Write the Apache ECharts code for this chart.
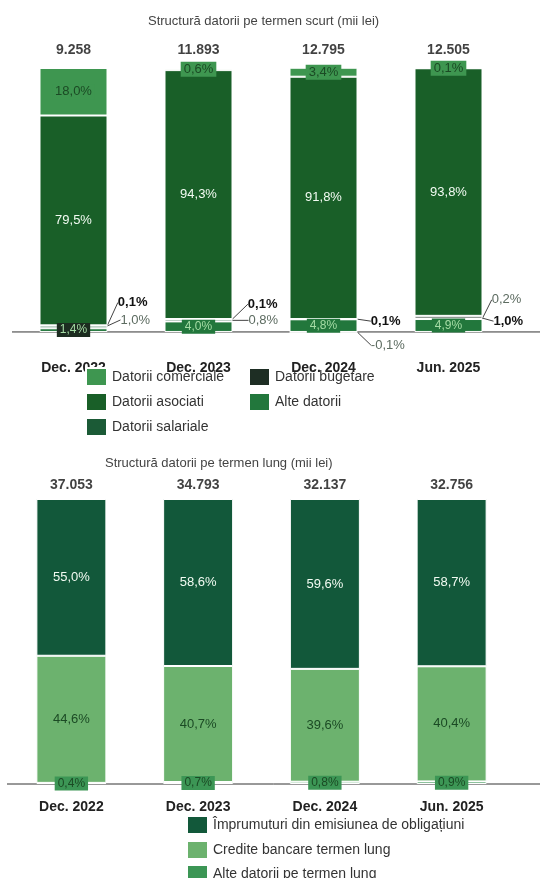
<!DOCTYPE html>
<html><head><meta charset="utf-8">
<script src="https://cdn.jsdelivr.net/npm/echarts@6/dist/echarts.min.js"></script>
<style>html,body{margin:0;padding:0;background:#fff}#c{width:548px;height:878px}</style>
</head><body><div id="c"></div>
<script>
// ---------- data ----------
const categories = ['Dec. 2022', 'Dec. 2023', 'Dec. 2024', 'Jun. 2025'];

const shortTotals     = [9258, 11893, 12795, 12505];
const shortComerciale = [18.0, 0.6, 3.4, 0.1];
const shortAsociati   = [79.5, 94.3, 91.8, 93.8];
const shortAlte       = [1.4, 4.0, 4.8, 4.9];
const shortSalariale  = [1.0, 0.8, -0.1, 0.2];
const shortBugetare   = [0.1, 0.1, 0.1, 1.0];

const longTotals      = [37053, 34793, 32137, 32756];
const longObligatiuni = [55.0, 58.6, 59.6, 58.7];
const longCredite     = [44.6, 40.7, 39.6, 40.4];
const longAlte        = [0.4, 0.7, 0.8, 0.9];

// ---------- styling ----------
const FONT = 'Liberation Sans';
const pct = v => v.toFixed(1).replace('.', ',') + '%';
const thousands = v => String(v).replace(/\B(?=(\d{3})+(?!\d))/g, '.');
// label shifts for the tiny segments (style only)
const salShift = [[8, -7], [11, 0], [8, 13], [4, -19]];
const bugShift = [[5, -23], [10, -15], [8, 2], [6, 4]];

const C = {
  comerciale: '#3e9650', asociati: '#195f28', salariale: '#1b5a36',
  bugetare: '#1e2e24', alte: '#22773c',
  oblig: '#12583a', credite: '#6cb26e', alteLung: '#3c9655'
};

function barBase(name, data, color, xi) {
  return {
    name, type: 'bar', data, stack: 's' + xi, xAxisIndex: xi, yAxisIndex: xi,
    barWidth: xi === 0 ? 68 : 70,
    itemStyle: { color, borderColor: '#ffffff', borderWidth: 1 },
    emphasis: { disabled: true }
  };
}

const series = [];
// ---- short term (grid 0), bottom to top ----
{
  const s = barBase('Alte datorii', shortAlte.map((v, i) => i === 0
      ? { value: v, label: { backgroundColor: '#1c2c20' } } : v), C.alte, 0);
  s.label = { show: true, position: 'inside', formatter: p => pct(p.value),
    color: '#a5dca5', fontSize: 12, fontFamily: FONT, backgroundColor: C.alte, padding: [1, 3] };
  series.push(s);
}
{
  const s = barBase('Datorii salariale', shortSalariale, C.salariale, 0);
  s.label = { show: true, position: 'right', distance: 5, formatter: p => pct(p.value),
    color: '#5c6b60', fontSize: 13, fontFamily: FONT };
  s.labelLine = { show: true, lineStyle: { color: '#444', width: 1 } };
  s.labelLayout = p => ({ dx: salShift[p.dataIndex][0], dy: salShift[p.dataIndex][1] });
  series.push(s);
}
{
  const s = barBase('Datorii bugetare', shortBugetare, C.bugetare, 0);
  s.label = { show: true, position: 'right', distance: 5, formatter: p => pct(p.value),
    color: '#111', fontSize: 13, fontWeight: 'bold', fontFamily: FONT };
  s.labelLine = { show: true, lineStyle: { color: '#444', width: 1 } };
  s.labelLayout = p => ({ dx: bugShift[p.dataIndex][0], dy: bugShift[p.dataIndex][1] });
  series.push(s);
}
{
  const s = barBase('Datorii asociati', shortAsociati, C.asociati, 0);
  s.label = { show: true, position: 'inside', formatter: p => pct(p.value),
    color: '#f2fbf2', fontSize: 13, fontFamily: FONT };
  series.push(s);
}
{
  const s = barBase('Datorii comerciale', shortComerciale, C.comerciale, 0);
  s.label = { show: true, position: 'inside', formatter: p => pct(p.value),
    color: '#1b4a24', fontSize: 13, fontFamily: FONT, backgroundColor: C.comerciale, padding: [1, 3] };
  series.push(s);
}
series.push({
  name: 'totS', type: 'scatter', xAxisIndex: 0, yAxisIndex: 0, symbolSize: 0,
  data: shortTotals.map(() => 100), silent: true,
  label: { show: true, position: 'top', distance: 11, formatter: p => thousands(shortTotals[p.dataIndex]),
    color: '#111', fontSize: 14, fontWeight: 'bold', fontFamily: FONT }
});

// ---- long term (grid 1) ----
{
  const s = barBase('Alte datorii pe termen lung', longAlte, C.alteLung, 1);
  s.label = { show: true, position: 'inside', formatter: p => pct(p.value),
    color: '#1b4a24', fontSize: 12, fontFamily: FONT, backgroundColor: C.alteLung, padding: [1, 3] };
  series.push(s);
}
{
  const s = barBase('Credite bancare termen lung', longCredite, C.credite, 1);
  s.label = { show: true, position: 'inside', formatter: p => pct(p.value),
    color: '#1b4a24', fontSize: 13, fontFamily: FONT };
  series.push(s);
}
{
  const s = barBase('Împrumuturi din emisiunea de obligațiuni', longObligatiuni, C.oblig, 1);
  s.label = { show: true, position: 'inside', formatter: p => pct(p.value),
    color: '#f2fbf2', fontSize: 13, fontFamily: FONT };
  series.push(s);
}
series.push({
  name: 'totL', type: 'scatter', xAxisIndex: 1, yAxisIndex: 1, symbolSize: 0,
  data: longTotals.map(() => 100), silent: true,
  label: { show: true, position: 'top', distance: 7, formatter: p => thousands(longTotals[p.dataIndex]),
    color: '#111', fontSize: 14, fontWeight: 'bold', fontFamily: FONT }
});

const legendText = { color: '#333', fontSize: 14, fontFamily: FONT };
const leg = (names, left, top) => ({
  data: names, orient: 'vertical', left, top, itemWidth: 21, itemHeight: 18, itemGap: 5,
  icon: 'rect', textStyle: legendText, selectedMode: false, padding: 0
});
const option = {
  animation: false,
  backgroundColor: '#ffffff',
  title: [
    { text: 'Structură datorii pe termen scurt (mii lei)', left: 143, top: 10,
      textStyle: { color: '#444', fontSize: 13, fontWeight: 'normal', fontFamily: FONT } },
    { text: 'Structură datorii pe termen lung (mii lei)', left: 100, top: 452,
      textStyle: { color: '#444', fontSize: 13, fontWeight: 'normal', fontFamily: FONT } }
  ],
  legend: [
    leg(['Datorii comerciale', 'Datorii asociati', 'Datorii salariale'], 85, 367),
    leg(['Datorii bugetare', 'Alte datorii'], 248, 367),
    leg(['Împrumuturi din emisiunea de obligațiuni'], 186, 815),
    leg(['Credite bancare termen lung'], 186, 840),
    leg(['Alte datorii pe termen lung'], 186, 864)
  ],
  grid: [
    { left: 11, width: 500, top: 68, height: 266.6 },
    { left: 8, width: 507, top: 499, height: 285 }
  ],
  xAxis: [0, 1].map(i => ({
    type: 'category', data: categories, gridIndex: i,
    axisLine: { show: false }, axisTick: { show: false },
    axisLabel: { margin: i === 0 ? 27 : 16, color: '#222', fontSize: 14, fontWeight: 'bold', fontFamily: FONT }
  })),
  yAxis: [
    { type: 'value', gridIndex: 0, min: -1, max: 100, show: false, splitLine: { show: false } },
    { type: 'value', gridIndex: 1, min: 0, max: 100, show: false, splitLine: { show: false } }
  ],
  series
};

const chart = echarts.init(document.getElementById('c'), null, { renderer: 'canvas' });
chart.setOption(option);
// baseline lines at value 0 of each grid, extended across the chart width
const y0 = chart.convertToPixel({ gridIndex: 0 }, [0, 0])[1];
const y1 = chart.convertToPixel({ gridIndex: 1 }, [0, 0])[1];
chart.setOption({
  graphic: [
    { type: 'line', shape: { x1: 12, y1: y0, x2: 540, y2: y0 }, style: { stroke: '#333', lineWidth: 1 }, z: 1 },
    { type: 'line', shape: { x1: 7, y1: y1, x2: 540, y2: y1 }, style: { stroke: '#333', lineWidth: 1 }, z: 1 }
  ]
});
</script></body></html>
